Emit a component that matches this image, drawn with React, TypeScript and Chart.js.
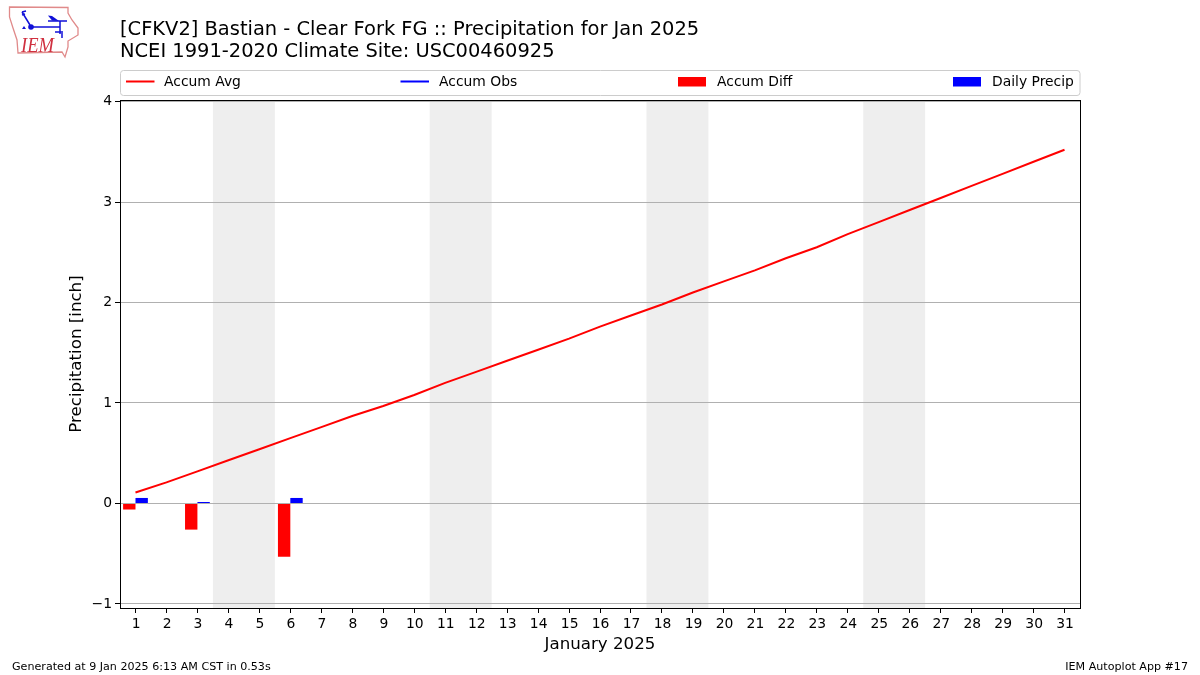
import React, { useEffect, useRef } from "react";
import { Chart, registerables } from "chart.js";

Chart.register(...registerables);

const days = Array.from({ length: 31 }, (_, i) => String(i + 1));
const accumAvg = [0.11, 0.21, 0.32, 0.43, 0.54, 0.65, 0.76, 0.87, 0.97, 1.08, 1.2, 1.31, 1.42, 1.53, 1.64, 1.76, 1.87, 1.98, 2.1, 2.21, 2.32, 2.44, 2.55, 2.68, 2.8, 2.92, 3.04, 3.16, 3.28, 3.4, 3.52];
const accumObs: (number | null)[] = days.map(() => null);
const accumDiff: Record<string, number> = { "1": -0.06, "3": -0.26, "6": -0.53 };
const dailyPrecip: Record<string, number> = { "1": 0.055, "3": 0.015, "6": 0.055 };
const weekendStarts = [4, 11, 18, 25];
const yTicks = [-1, 0, 1, 2, 3, 4];
const titleLines = [
  "[CFKV2] Bastian - Clear Fork FG :: Precipitation for Jan 2025",
  "NCEI 1991-2020 Climate Site: USC00460925",
];
const FONT = "'DejaVu Sans'";

const shadeBehindGrid = {
  id: "shade",
  beforeDraw(chart: any) {
    const { ctx, chartArea, scales } = chart;
    ctx.save();
    ctx.fillStyle = "#eeeeee";
    for (const d of weekendStarts) {
      const x0 = (scales.x.getPixelForValue(d - 1) + scales.x.getPixelForValue(d - 2)) / 2;
      const x1 = (scales.x.getPixelForValue(d) + scales.x.getPixelForValue(d + 1)) / 2;
      ctx.fillRect(x0, chartArea.top, x1 - x0, chartArea.bottom - chartArea.top);
    }
    ctx.restore();
  },
};

const framePlugin = {
  id: "frame",
  afterDraw(chart: any) {
    const { ctx, chartArea: a } = chart;
    ctx.save();
    ctx.strokeStyle = "#000";
    ctx.lineWidth = 1;
    ctx.strokeRect(Math.floor(a.left) + 0.5, Math.floor(a.top) + 0.5, Math.round(a.right - a.left), Math.round(a.bottom - a.top));

    ctx.fillStyle = "#000";
    ctx.textBaseline = "alphabetic";
    ctx.textAlign = "left";
    ctx.font = `19.44px ${FONT}`;
    ctx.fillText(titleLines[0], 120, 35);
    ctx.fillText(titleLines[1], 120, 57);

    // legend
    ctx.beginPath();
    ctx.roundRect(120.5, 70.5, 959.5, 25, 3);
    ctx.strokeStyle = "#cccccc";
    ctx.stroke();
    const slots = [126, 400.5, 678, 953];
    const textSlots = [164, 439, 717, 992];
    ctx.font = `13.89px ${FONT}`;
    ctx.textBaseline = "middle";
    chart.data.datasets.forEach((ds: any, i: number) => {
      const x = slots[i];
      if (ds.type === "line") {
        ctx.strokeStyle = ds.borderColor;
        ctx.lineWidth = 2;
        ctx.beginPath();
        ctx.moveTo(x, 81.5);
        ctx.lineTo(x + 28.5, 81.5);
        ctx.stroke();
      } else {
        ctx.fillStyle = ds.backgroundColor;
        ctx.fillRect(x, 77, 28, 9.5);
      }
      ctx.fillStyle = "#000";
      ctx.fillText(ds.label, textSlots[i], 82);
    });
    ctx.restore();
  },
};

function Logo() {
  return (
    <svg width={85} height={62} viewBox="0 0 85 62" style={{ position: "absolute", left: 0, top: 0 }}>
      <path
        d="M9.5 7 L68 7.5 L68 13 L72 20 L78 28 L78 35 L68 41 L68 47 L65 57 L62 52 L18 53 L17 40 L13 28 L9.5 17 Z"
        fill="none"
        stroke="#e08a8a"
        strokeWidth={1.3}
      />
      <g stroke="#1010d8" fill="none" strokeWidth={1.5}>
        <path d="M31 27 L60 27 M48 21 L67 21 M60 21 L60 34 M22 12 L30 25 M22 12 L26 11 M22 15 L25 14 M55 32 L63 32 M62 33 L62 38" />
      </g>
      <circle cx={31} cy={27} r={2.8} fill="#1010d8" />
      <path d="M48 15.5 L52 16 L59 21 L52 20.5 Z" fill="#1010d8" />
      <path d="M24 26 L26 29 L22 29 Z" fill="#1010d8" />
      <text x={21} y={52} fontFamily="'Liberation Serif'" fontStyle="italic" fontSize={21} textLength={33} lengthAdjust="spacingAndGlyphs" fill="#d03040">IEM</text>
    </svg>
  );
}

export default function App() {
  const ref = useRef<HTMLCanvasElement>(null);
  useEffect(() => {
    const chart = new Chart(ref.current!, {
      type: "bar",
      data: {
        labels: days,
        datasets: [
          { type: "line", label: "Accum Avg", data: accumAvg, borderColor: "#ff0000", borderWidth: 2, pointRadius: 0, tension: 0, order: 0 },
          { type: "line", label: "Accum Obs", data: accumObs, borderColor: "#0000ff", borderWidth: 2, pointRadius: 0, order: 1 },
          { type: "bar", label: "Accum Diff", data: days.map((d) => accumDiff[d] ?? null), backgroundColor: "#ff0000", barPercentage: 1, categoryPercentage: 0.8, order: 2 },
          { type: "bar", label: "Daily Precip", data: days.map((d) => dailyPrecip[d] ?? null), backgroundColor: "#0000ff", barPercentage: 1, categoryPercentage: 0.8, order: 3 },
        ] as any,
      },
      options: {
        responsive: false,
        animation: false,
        events: [],
        layout: { padding: { left: 60, right: 120, top: 100, bottom: 20 } },
        plugins: { legend: { display: false }, title: { display: false }, tooltip: { enabled: false } },
        scales: {
          x: {
            offset: true,
            afterFit(s: any) {
              s.height = 47;
            },
            grid: { offset: false, drawOnChartArea: false, drawTicks: true, tickLength: 5, tickColor: "#000", tickWidth: 1 },
            border: { display: false },
            ticks: { color: "#000", font: { family: "DejaVu Sans", size: 13.89 }, maxRotation: 0, autoSkip: false, padding: 3, labelOffset: 0.6 },
            title: { display: true, text: "January 2025", color: "#000", font: { family: "DejaVu Sans", size: 16.67 }, padding: { top: 0, bottom: 0 } },
          },
          y: {
            min: -1.04,
            max: 4.015,
            afterBuildTicks(s: any) {
              s.ticks = yTicks.map((v) => ({ value: v }));
            },
            afterFit(s: any) {
              s.width = 60;
            },
            grid: { color: "#b0b0b0", lineWidth: 1, tickColor: "#000", tickLength: 5 },
            border: { display: false },
            ticks: { color: "#000", font: { family: "DejaVu Sans", size: 13.89 }, padding: 3, callback: (v: any) => String(v).replace("-", "\u2212") },
            title: { display: true, text: "Precipitation [inch]", color: "#000", font: { family: "DejaVu Sans", size: 16.67 }, padding: { top: 6.5, bottom: 0 } },
          },
        },
      },
      plugins: [shadeBehindGrid, framePlugin],
    } as any);
    return () => chart.destroy();
  }, []);
  return (
    <div style={{ position: "fixed", left: 0, top: 0, width: 1200, height: 675, background: "#fff", fontFamily: FONT }}>
      <canvas ref={ref} width={1200} height={675} style={{ display: "block" }} />
      <Logo />
      <div style={{ position: "absolute", left: 12, top: 660, fontSize: 11.11, lineHeight: "13px", color: "#000" }}>Generated at 9 Jan 2025 6:13 AM CST in 0.53s</div>
      <div style={{ position: "absolute", right: 12, top: 660, fontSize: 11.11, lineHeight: "13px", color: "#000" }}>IEM Autoplot App #17</div>
    </div>
  );
}
